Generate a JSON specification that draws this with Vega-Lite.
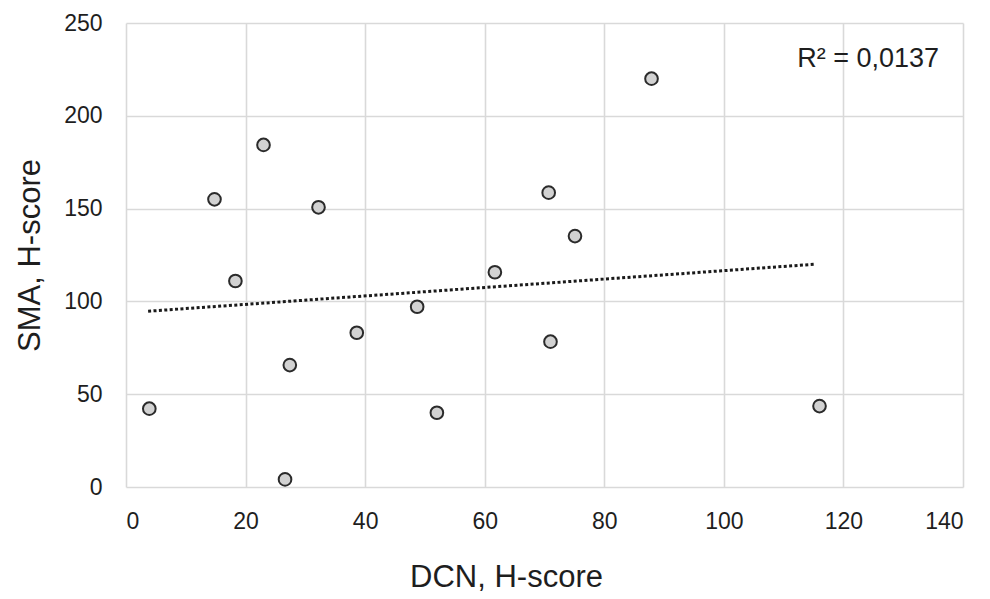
{
  "$schema": "https://vega.github.io/schema/vega-lite/v6.json",
  "width": 837,
  "height": 464,
  "autosize": "none",
  "padding": {"left": 126, "top": 23, "right": 27, "bottom": 112},
  "background": "white",
  "config": {
    "font": "Liberation Sans",
    "view": {"stroke": null},
    "axis": {
      "grid": true,
      "gridColor": "#d9d9d9",
      "gridWidth": 1.6,
      "domain": false,
      "ticks": false,
      "tickSize": 0,
      "labelFont": "Liberation Sans",
      "labelFontSize": 23,
      "labelColor": "#1e1e1e",
      "titleFont": "Liberation Sans",
      "titleFontSize": 31,
      "titleFontWeight": "normal",
      "titleColor": "#1e1e1e"
    }
  },
  "datasets": {
    "points": [
      {"DCN": 3.9, "SMA": 42.2},
      {"DCN": 14.8, "SMA": 155.0},
      {"DCN": 18.3, "SMA": 111.0},
      {"DCN": 23.0, "SMA": 184.3},
      {"DCN": 26.6, "SMA": 4.1},
      {"DCN": 27.4, "SMA": 65.7},
      {"DCN": 32.2, "SMA": 150.7},
      {"DCN": 38.6, "SMA": 83.1},
      {"DCN": 48.7, "SMA": 97.1},
      {"DCN": 52.0, "SMA": 40.0},
      {"DCN": 61.7, "SMA": 115.7},
      {"DCN": 70.7, "SMA": 158.6},
      {"DCN": 71.0, "SMA": 78.3},
      {"DCN": 75.1, "SMA": 135.2},
      {"DCN": 87.9, "SMA": 220.0},
      {"DCN": 116.0, "SMA": 43.6}
    ],
    "trend": [
      {"DCN": 3.7, "SMA": 94.7},
      {"DCN": 115.1, "SMA": 120.0}
    ],
    "label": [
      {"DCN": 136.0, "SMA": 226.4, "text": "R² = 0,0137"}
    ]
  },
  "layer": [
    {
      "data": {"name": "trend"},
      "mark": {"type": "line", "color": "#1a1a1a", "strokeWidth": 3, "strokeDash": [3, 2.4]},
      "encoding": {
        "x": {"field": "DCN", "type": "quantitative", "scale": {"domain": [0, 140], "nice": false},
              "axis": {"values": [0, 20, 40, 60, 80, 100, 120, 140], "title": "DCN, H-score",
                       "labelBaseline": "alphabetic", "labelPadding": 41,
                       "titleX": 380, "titleY": 99, "titleBaseline": "alphabetic", "titleAlign": "center", "titleAnchor": null}},
        "y": {"field": "SMA", "type": "quantitative", "scale": {"domain": [0, 250], "nice": false},
              "axis": {"values": [0, 50, 100, 150, 200, 250], "title": "SMA, H-score",
                       "labelPadding": 24, "labelBaseline": "middle",
                       "titleX": -87, "titleY": 232, "titleBaseline": "alphabetic", "titleAlign": "center", "titleAnchor": null}}
      }
    },
    {
      "data": {"name": "points"},
      "mark": {"type": "point", "shape": "circle", "filled": true, "fill": "#d2d2d2", "stroke": "#2b2b2b", "strokeWidth": 2, "size": 160, "opacity": 1},
      "encoding": {
        "x": {"field": "DCN", "type": "quantitative", "scale": {"domain": [0, 140], "nice": false}},
        "y": {"field": "SMA", "type": "quantitative", "scale": {"domain": [0, 250], "nice": false}}
      }
    },
    {
      "data": {"name": "label"},
      "mark": {"type": "text", "align": "right", "baseline": "alphabetic", "fontSize": 27, "color": "#1e1e1e", "font": "Liberation Sans"},
      "encoding": {
        "x": {"field": "DCN", "type": "quantitative", "scale": {"domain": [0, 140], "nice": false}},
        "y": {"field": "SMA", "type": "quantitative", "scale": {"domain": [0, 250], "nice": false}},
        "text": {"field": "text"}
      }
    }
  ]
}
